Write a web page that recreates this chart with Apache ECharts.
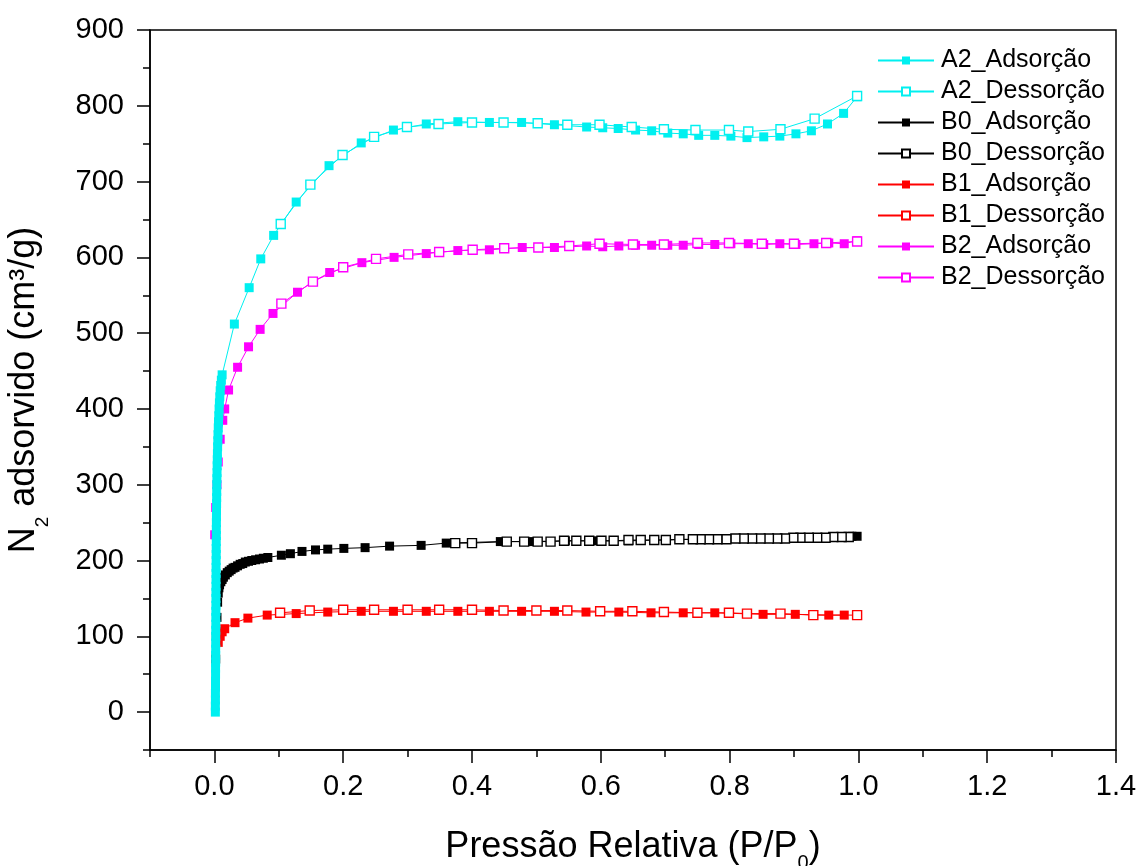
<!DOCTYPE html>
<html>
<head>
<meta charset="utf-8">
<script src="https://cdn.jsdelivr.net/npm/echarts@6/dist/echarts.min.js"></script>
<style>
html,body{margin:0;padding:0;background:#fff;}
#chart{width:1142px;height:866px;}
</style>
</head>
<body>
<div id="chart"></div>
<script>
// ---- data (P/P0, volume cm3/g) ----
const seriesNames = ['A2_Adsorção','A2_Dessorção','B0_Adsorção','B0_Dessorção','B1_Adsorção','B1_Dessorção','B2_Adsorção','B2_Dessorção'];
const xMajorTicks = [0,0.2,0.4,0.6,0.8,1.0,1.2,1.4];
const xMinorTicks = [-0.1,0.1,0.3,0.5,0.7,0.9,1.1,1.3];
const yMajorTicks = [0,100,200,300,400,500,600,700,800,900];
const yMinorTicks = [-50,50,150,250,350,450,550,650,750,850];

const a2Ads = [
 [0.0015,0],[0.0015,8],[0.0016,16],[0.0016,25],[0.0017,33],[0.0017,41],[0.0018,50],[0.0018,58],[0.0019,66],
 [0.0019,75],[0.0020,83],[0.0020,91],[0.0021,100],[0.0021,108],[0.0022,116],[0.0022,125],[0.0023,133],
 [0.0023,141],[0.0024,150],[0.0024,158],[0.0025,166],[0.0025,175],[0.0026,183],[0.0026,191],[0.0027,200],
 [0.0028,208],[0.0028,216],[0.0029,225],[0.0030,233],[0.0030,241],[0.0031,250],[0.0032,258],[0.0033,266],
 [0.0034,275],[0.0035,283],[0.0036,291],[0.0037,300],[0.0039,308],[0.0041,316],[0.0043,325],[0.0045,333],
 [0.0047,341],[0.0050,350],[0.0053,358],[0.0056,366],[0.0060,375],[0.0064,383],[0.0068,391],[0.0073,400],
 [0.0078,408],[0.0084,416],[0.0090,424],[0.0098,431],[0.0108,438],[0.0120,445],
 [0.031,512],[0.054,560],[0.072,598],[0.092,629],[0.127,673],[0.178,721],[0.228,751],[0.278,768],
 [0.329,776],[0.378,779],[0.427,778],[0.477,778],[0.528,775],[0.578,772],[0.603,771],[0.627,770],
 [0.654,768],[0.679,767],[0.704,764],[0.728,763],[0.752,761],[0.777,761],[0.802,760],[0.827,758],
 [0.853,759],[0.878,760],[0.903,763],[0.927,767],[0.952,776],[0.977,790],[0.998,812]
];
const a2Des = [
 [0.998,813],[0.932,783],[0.879,769],[0.829,766],[0.799,768],[0.747,768],[0.698,769],[0.648,772],
 [0.598,775],[0.548,775],[0.502,777],[0.449,778],[0.400,778],[0.348,776],[0.299,772],[0.248,759],
 [0.199,735],[0.149,696],[0.103,644]
];
const b0Ads = [
 [0.002,70],[0.003,100],[0.004,125],[0.005,145],[0.006,157],[0.007,164],[0.008,168],
 [0.010,172],[0.012,175],[0.014,178],[0.017,181],[0.020,184],[0.023,186],[0.026,188],[0.029,190],
 [0.032,191],[0.036,193],[0.040,195],[0.044,196],[0.048,198],[0.053,199],[0.058,200],[0.064,201],
 [0.070,202],[0.076,203],[0.083,204],[0.104,207],[0.118,209],[0.136,212],[0.157,214],[0.176,215],
 [0.201,216],[0.234,217],[0.272,219],[0.321,220],[0.360,223],[0.444,225],[0.492,225],[0.545,226],
 [0.595,226],[0.643,226],[0.683,227],[0.748,228],[0.827,229],[0.900,230],[0.962,231],[0.990,232],[0.998,232]
];
const b0Des = [
 [0.985,231],[0.974,231],[0.961,231],[0.949,230],[0.936,230],[0.923,230],[0.910,230],[0.899,230],
 [0.886,229],[0.874,229],[0.861,229],[0.848,229],[0.835,229],[0.822,229],[0.809,229],[0.795,228],
 [0.781,228],[0.768,228],[0.755,228],[0.743,228],[0.722,228],[0.701,227],[0.683,227],[0.662,227],
 [0.643,227],[0.620,226],[0.601,226],[0.582,226],[0.562,226],[0.543,226],[0.522,225],[0.502,225],
 [0.481,225],[0.454,225],[0.400,223],[0.374,223]
];
const b1Ads = [
 [0.006,92],[0.009,100],[0.012,106],[0.016,110],[0.032,118],[0.052,124],
 [0.082,128],[0.127,130],[0.176,132],[0.228,133],[0.278,133],[0.329,133],[0.378,133],[0.427,133],
 [0.477,133],[0.528,133],[0.577,132],[0.628,132],[0.678,131],[0.728,131],[0.777,131],[0.852,129],
 [0.902,129],[0.954,128],[0.978,128]
];
const b1Des = [
 [0.998,128],[0.930,128],[0.879,130],[0.827,130],[0.799,131],[0.750,131],[0.698,132],[0.649,133],
 [0.599,133],[0.548,134],[0.500,134],[0.449,134],[0.400,135],[0.349,135],[0.300,135],[0.248,135],
 [0.200,135],[0.148,134],[0.102,131]
];
const b2Ads = [
 [0.0005,234],[0.002,270],[0.004,300],[0.006,330],[0.009,360],[0.013,385],[0.016,400],[0.022,425],
 [0.036,455],[0.053,482],[0.071,505],[0.091,526],[0.129,554],[0.153,568],[0.179,580],[0.229,593],
 [0.279,600],[0.329,605],[0.378,609],[0.427,610],[0.478,613],[0.528,613],[0.578,615],[0.603,614],
 [0.628,615],[0.654,616],[0.679,616],[0.704,616],[0.728,616],[0.752,617],[0.777,617],[0.802,618],
 [0.829,618],[0.853,617],[0.878,618],[0.903,617],[0.931,618],[0.954,619],[0.978,618],[0.998,622]
];
const b2Des = [
 [0.998,621],[0.950,619],[0.900,618],[0.850,618],[0.799,619],[0.750,619],[0.698,617],[0.650,617],
 [0.598,618],[0.551,615],[0.503,613],[0.450,612],[0.401,610],[0.349,607],[0.301,604],[0.251,598],
 [0.200,587],[0.153,568],[0.104,539]
];

const CYAN = '#00F0F0', BLACK = '#000000', RED = '#FF0000', MAG = '#FF00FF';
const FONT = 'Liberation Sans, Arial, sans-serif';

function mk(name, data, color, filled, z) {
  return {
    name: name, type: 'line', data: data, z: z,
    symbol: 'rect', symbolSize: 9, showSymbol: true, showAllSymbol: true,
    color: color,
    lineStyle: {color: color, width: 1},
    itemStyle: filled ? {color: color, borderWidth: 0} : {color: '#ffffff', borderColor: color, borderWidth: 1.4},
    emphasis: {disabled: true},
    silent: true
  };
}

const chart = echarts.init(document.getElementById('chart'), null, {renderer: 'canvas'});
const axisCommon = {
  type: 'value', splitLine: {show: false}, scale: false
};
chart.setOption({
  animation: false,
  backgroundColor: '#ffffff',
  textStyle: {fontFamily: FONT},
  grid: {left: 150, right: 26, top: 30, bottom: 116, containLabel: false, outerBoundsMode: 'none',
         show: true, borderColor: '#000', borderWidth: 1.5, backgroundColor: 'transparent'},
  legend: {
    orient: 'vertical', left: 877, top: 48, padding: 0,
    itemWidth: 56, itemHeight: 10, itemGap: 6,
    textStyle: {fontSize: 25, lineHeight: 25, color: '#000', fontFamily: FONT, padding: [0,0,0,2]},
    data: seriesNames
  },
  xAxis: [
    Object.assign({}, axisCommon, {
      min: -0.1, max: 1.4, position: 'bottom',
      axisLine: {show: true, onZero: false, lineStyle: {color: '#000', width: 1.5}},
      axisTick: {show: true, customValues: xMajorTicks, length: 13, lineStyle: {color: '#000', width: 1.5}},
      axisLabel: {show: true, customValues: xMajorTicks, fontSize: 29, margin: 22, color: '#000', fontFamily: FONT,
                  formatter: v => v.toFixed(1)},
      name: '{t|Pressão Relativa (P/P}{s|0}{t|)}',
      nameLocation: 'middle', nameGap: 71,
      nameTextStyle: {rich: {
        t: {fontSize: 36, fontFamily: FONT, color: '#000'},
        s: {fontSize: 20, fontFamily: FONT, color: '#000', padding: [32,0,0,0]}
      }}
    }),
    Object.assign({}, axisCommon, {
      min: -0.1, max: 1.4, position: 'bottom',
      axisLine: {show: false, onZero: false},
      axisTick: {show: true, customValues: xMinorTicks, length: 7, lineStyle: {color: '#000', width: 1.5}},
      axisLabel: {show: false}
    })
  ],
  yAxis: [
    Object.assign({}, axisCommon, {
      min: -50, max: 900, position: 'left',
      axisLine: {show: true, onZero: false, lineStyle: {color: '#000', width: 1.5}},
      axisTick: {show: true, customValues: yMajorTicks, length: 13, lineStyle: {color: '#000', width: 1.5}},
      axisLabel: {show: true, customValues: yMajorTicks, fontSize: 29, margin: 26, color: '#000', fontFamily: FONT},
      name: '{t|N}{s|2}{t| adsorvido (cm³/g)}',
      nameLocation: 'middle', nameGap: 98,
      nameTextStyle: {rich: {
        t: {fontSize: 36, fontFamily: FONT, color: '#000'},
        s: {fontSize: 19, fontFamily: FONT, color: '#000', padding: [36,0,0,0]}
      }}
    }),
    Object.assign({}, axisCommon, {
      min: -50, max: 900, position: 'left',
      axisLine: {show: false, onZero: false},
      axisTick: {show: true, customValues: yMinorTicks, length: 7, lineStyle: {color: '#000', width: 1.5}},
      axisLabel: {show: false}
    })
  ],
  series: [
    mk(seriesNames[0], a2Ads, CYAN, true, 6),
    mk(seriesNames[1], a2Des, CYAN, false, 7),
    mk(seriesNames[2], b0Ads, BLACK, true, 2),
    mk(seriesNames[3], b0Des, BLACK, false, 3),
    mk(seriesNames[4], b1Ads, RED, true, 2),
    mk(seriesNames[5], b1Des, RED, false, 3),
    mk(seriesNames[6], b2Ads, MAG, true, 4),
    mk(seriesNames[7], b2Des, MAG, false, 5)
  ]
});
</script>
</body>
</html>
